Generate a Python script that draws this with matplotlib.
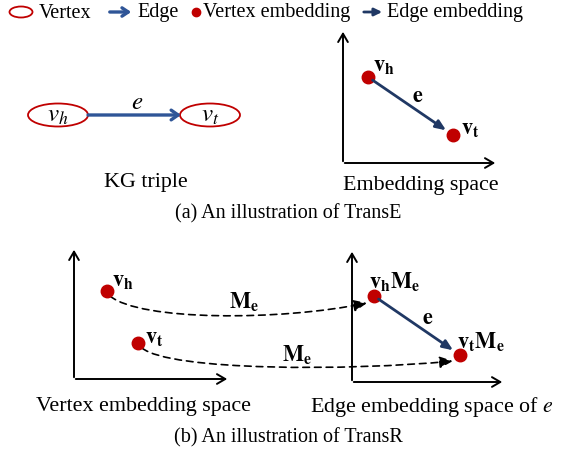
import matplotlib
matplotlib.use("Agg")
import matplotlib.pyplot as plt
from matplotlib.patches import Ellipse, FancyArrowPatch
from matplotlib.path import Path

plt.rcParams['font.family'] = ['Liberation Serif', 'DejaVu Serif']
plt.rcParams['mathtext.fontset'] = 'stix'

RED = '#C00000'
BLUE = '#2F5597'
NAVY = '#203864'

# legend row
legend_labels = ['Vertex', 'Edge', 'Vertex embedding', 'Edge embedding']
legend_text_x = [39, 137, 203, 387]

# (a) KG triple
triple_nodes = [r'$v_h$', r'$v_t$']
triple_x = [58, 210]
triple_y = 116

# (a) embedding space points
transe_x = [368, 453]
transe_y = [78, 136]

# (b) vertex space points and projected points
vert_x = [107, 138]
vert_y = [292, 344]
proj_x = [374, 460]
proj_y = [297, 356]

captions = ['(a) An illustration of TransE', '(b) An illustration of TransR']

fig = plt.figure(figsize=(5.76, 4.56), dpi=100)
ax = fig.add_axes([0, 0, 1, 1])
ax.set_xlim(0, 576)
ax.set_ylim(456, 0)
ax.axis('off')

fs_leg = 14.5
fs_lab = 15.8
fs_cap = 14.5
fs_math = 16

# ---- legend
ax.add_patch(Ellipse((21, 13), 23, 11, fill=False, ec=RED, lw=1.3))
ax.annotate('', xy=(134, 13), xytext=(107, 13),
            arrowprops=dict(arrowstyle='->,head_width=0.3,head_length=0.45', color=BLUE, lw=2.4))
ax.plot([196], [13], 'o', color=RED, ms=6)
ax.annotate('', xy=(385, 13), xytext=(361, 13),
            arrowprops=dict(arrowstyle='-|>,head_width=0.22,head_length=0.45', color=NAVY, lw=2))
for lab, lx in zip(legend_labels, legend_text_x):
    ax.text(lx, 13, lab, fontsize=fs_leg, ha='left', va='center')


def axes_arrows(x0, y0, x1, y1):
    # y axis then x axis with open heads
    ax.annotate('', xy=(x0, y1), xytext=(x0, y0 + 1),
                arrowprops=dict(arrowstyle='->,head_width=0.35,head_length=0.6', color='black', lw=1.4))
    ax.annotate('', xy=(x1, y0), xytext=(x0 - 1, y0),
                arrowprops=dict(arrowstyle='->,head_width=0.35,head_length=0.6', color='black', lw=1.4))


def dashed_curve(pts):
    path = Path(pts, [Path.MOVETO, Path.CURVE4, Path.CURVE4, Path.CURVE4])
    ax.add_patch(FancyArrowPatch(path=path, arrowstyle='-|>,head_width=3.5,head_length=8',
                                 color='black', lw=1.2, ls=(0, (4, 3)), transform=ax.transData))


# ---- (a) KG triple
for lab, nx in zip(triple_nodes, triple_x):
    ax.add_patch(Ellipse((nx, triple_y), 60, 23, fill=False, ec=RED, lw=1.3))
    ax.text(nx, triple_y, lab, fontsize=18, ha='center', va='center')
ax.annotate('', xy=(181, triple_y), xytext=(88, triple_y),
            arrowprops=dict(arrowstyle='->,head_width=0.35,head_length=0.5', color=BLUE, lw=2.4,
                            shrinkA=0, shrinkB=0))
ax.text(137, 103, r'$e$', fontsize=18, ha='center', va='center')
ax.text(146, 183, 'KG triple', fontsize=fs_lab, ha='center', va='center')

# ---- (a) embedding space
axes_arrows(343, 164, 498, 30)
ax.annotate('', xy=(transe_x[1], transe_y[1]), xytext=(transe_x[0], transe_y[0]),
            arrowprops=dict(arrowstyle='-|>,head_width=0.25,head_length=0.6', color=NAVY, lw=2,
                            shrinkA=4, shrinkB=6))
ax.plot(transe_x, transe_y, 'o', color=RED, ms=9, ls='none')
ax.text(373, 67, r'$\mathbf{v}_\mathbf{h}$', fontsize=fs_math, ha='left', va='center')
ax.text(461, 130, r'$\mathbf{v}_\mathbf{t}$', fontsize=fs_math, ha='left', va='center')
ax.text(418, 98, r'$\mathbf{e}$', fontsize=fs_math, ha='center', va='center')
ax.text(421, 186, 'Embedding space', fontsize=fs_lab, ha='center', va='center')
ax.text(288, 214, captions[0], fontsize=fs_cap, ha='center', va='center')

# ---- (b) axes
axes_arrows(74, 380, 230, 248)
axes_arrows(352, 383, 505, 250)

# dashed projections
dashed_curve([(vert_x[0] + 3, vert_y[0] + 5), (140, 322), (280, 322), (367, 304)])
dashed_curve([(vert_x[1] + 4, vert_y[1] + 5), (170, 372), (350, 372), (453, 362)])
ax.text(244, 302, r'$\mathbf{M}_\mathbf{e}$', fontsize=fs_math, ha='center', va='center')
ax.text(297, 355, r'$\mathbf{M}_\mathbf{e}$', fontsize=fs_math, ha='center', va='center')

ax.plot(vert_x, vert_y, 'o', color=RED, ms=9, ls='none')
ax.text(112, 282, r'$\mathbf{v}_\mathbf{h}$', fontsize=fs_math, ha='left', va='center')
ax.text(145, 339, r'$\mathbf{v}_\mathbf{t}$', fontsize=fs_math, ha='left', va='center')

# ---- (b) edge embedding space
ax.annotate('', xy=(proj_x[1], proj_y[1]), xytext=(proj_x[0], proj_y[0]),
            arrowprops=dict(arrowstyle='-|>,head_width=0.25,head_length=0.6', color=NAVY, lw=2,
                            shrinkA=4, shrinkB=6))
ax.plot(proj_x, proj_y, 'o', color=RED, ms=9, ls='none')
ax.text(369, 282, r'$\mathbf{v}_\mathbf{h}\mathbf{M}_\mathbf{e}$', fontsize=fs_math, ha='left', va='center')
ax.text(457, 342, r'$\mathbf{v}_\mathbf{t}\mathbf{M}_\mathbf{e}$', fontsize=fs_math, ha='left', va='center')
ax.text(428, 320, r'$\mathbf{e}$', fontsize=fs_math, ha='center', va='center')

ax.text(144, 407, 'Vertex embedding space', fontsize=fs_lab, ha='center', va='center')
ax.text(432, 407, r'Edge embedding space of $e$', fontsize=fs_lab, ha='center', va='center')
ax.text(288, 438, captions[1], fontsize=fs_cap, ha='center', va='center')

fig.savefig('out.png', dpi=100)
